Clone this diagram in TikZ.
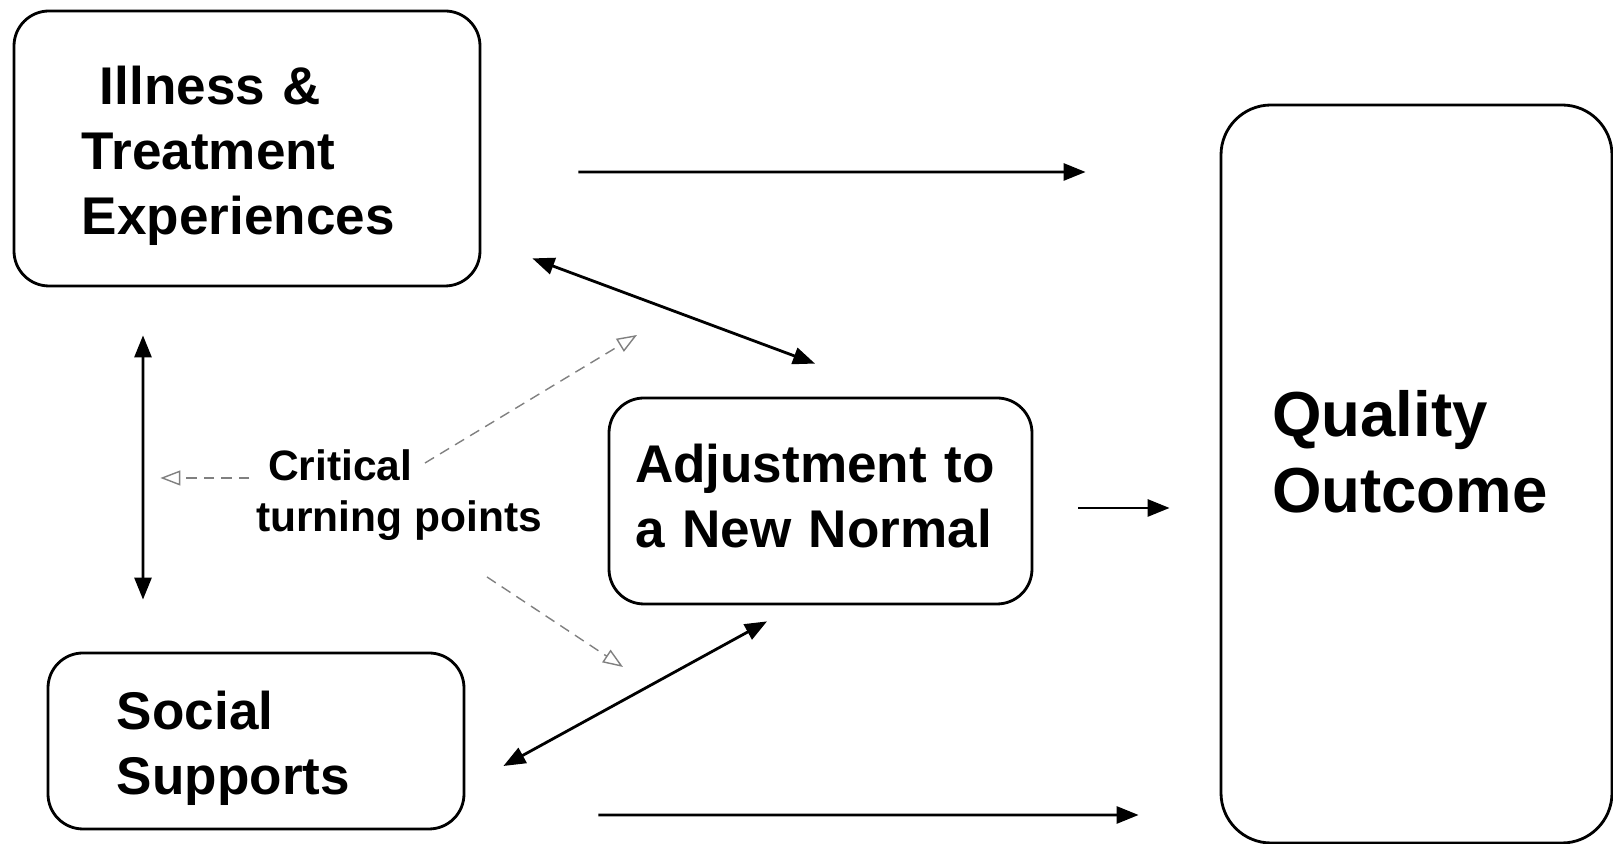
\documentclass[tikz,border=0pt]{standalone}
\usepackage{fontspec}
\setmainfont{Liberation Sans}
\usetikzlibrary{positioning, calc, arrows.meta}
\tikzset{
	factor/.style={draw, rectangle, rounded corners=0.35cm, line width=0.8pt, align=left, font=\bfseries\fontsize{15.1}{18.5}\selectfont},
	outcome/.style={draw, rectangle, rounded corners=0.5cm, line width=0.8pt, align=left, font=\bfseries\fontsize{18.1}{21.6}\selectfont},
	% label in the middle with the faint arrows
	note/.style={inner sep=0pt, align=left, font=\bfseries\fontsize{12.1}{14.5}\selectfont},
}

\begin{document}
\begin{tikzpicture}
				\useasboundingbox (-2.47,1.485) rectangle (13.66,-6.955);
				
				\node (ill) [factor, inner xsep=0.68cm, text width=3.30cm, minimum height=2.75cm, text depth=36.1pt] {\hspace*{0.18cm}Illness \&\\Treatment\\Experiences};
				\node (adj) [factor, right of=ill, xshift=4.735cm, yshift=-3.525cm, inner xsep=0.26cm, text width=3.71cm, minimum height=2.06cm, text depth=21.4pt] {Adjustment to\\a New Normal};
				\node (soc) [factor, below of=ill, xshift=0.09cm, yshift=-4.925cm, inner xsep=0.69cm, text width=2.78cm, minimum height=1.76cm, text depth=17.6pt] {Social\\Supports};
				\node (qual) [outcome, right of=ill, xshift=10.695cm, yshift=-3.255cm, inner xsep=0.51cm, text width=2.89cm, minimum height=7.38cm, text depth=34.5pt] {Quality\\Outcome};
				\node (crit) [note, below of=ill, xshift=1.52cm, yshift=-2.47cm] {\hspace*{0.12cm}Critical\\turning points};
				
				\begin{scope}[line width=0.8pt, black, ->, >={Triangle[length=0.22cm, width=0.17cm]}]
					\draw ($(ill.east)+(0.97,-0.235)$) -- ($(qual.west)+(-1.34,3.02)$);
					\draw ($(soc.east)+(1.33,-0.74)$) -- ($(qual.west)+(-0.81,-3.41)$);
					\draw ($(adj.east)+(0.45,-0.07)$) -- ($(qual.west)+(-0.50,-0.34)$);
					\draw [<->] ($(ill.south east)+(0.51,0.29)$) -- ($(adj.north)+(-0.055,0.33)$);
					\draw [<->] ($(soc.east)+(0.38,-0.25)$) -- ($(adj.south)+(-0.535,-0.16)$);
					\draw [<->] ($(ill.south)+(-1.04,-0.48)$) -- ($(soc.north)+(-1.13,0.52)$);
				\end{scope}
				\begin{scope}[thin, densely dashed, gray, ->, >={Triangle[open, length=0.2cm, width=0.15cm]}]
					\draw ($(crit.west)+(-0.06,0.175)$) -- ($(crit.west)+(-0.95,0.175)$);
					\draw ($(crit.center)+(0.26,0.325)$) -- ($(crit.center)+(2.38,1.605)$);
					\draw ($(crit.center)+(0.88,-0.815)$) -- ($(crit.center)+(2.24,-1.715)$);
				\end{scope}
				
\end{tikzpicture}
\end{document}
